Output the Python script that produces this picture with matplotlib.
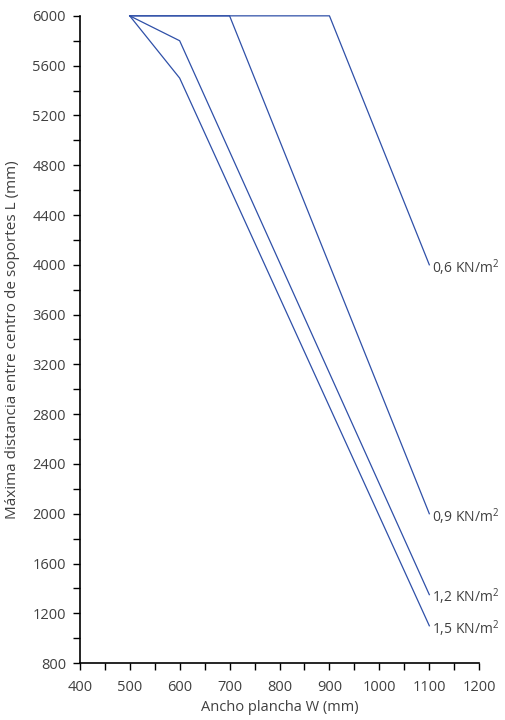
import matplotlib
matplotlib.use("Agg")
import matplotlib.pyplot as plt
from matplotlib.ticker import MultipleLocator

plt.rcParams['font.family'] = ['Open Sans', 'DejaVu Sans']
plt.rcParams['mathtext.fontset'] = 'custom'
plt.rcParams['mathtext.rm'] = 'Open Sans'

# Curves: width W (mm) vs max support distance L (mm)
labels = ['0,6 KN/m$^2$', '0,9 KN/m$^2$', '1,2 KN/m$^2$', '1,5 KN/m$^2$']
w_06 = [500, 900, 1100]
l_06 = [6000, 6000, 4000]
w_09 = [500, 700, 1100]
l_09 = [6000, 6000, 2000]
w_12 = [500, 600, 1100]
l_12 = [6000, 5800, 1350]
w_15 = [500, 600, 1100]
l_15 = [6000, 5500, 1100]

series = [(w_06, l_06), (w_09, l_09), (w_12, l_12), (w_15, l_15)]
color = '#2f50a8'
text_col = '#404040'

fig = plt.figure(figsize=(5.05, 7.2), dpi=100)
ax = fig.add_axes([0.158, 0.079, 0.791, 0.899])

for (w, l), lab in zip(series, labels):
    ax.plot(w, l, color=color, lw=0.9, clip_on=False)
    ax.text(w[-1] + 6, l[-1] - 20, lab, ha='left', va='center',
            fontsize=10, color=text_col)

ax.set_xlim(400, 1200)
ax.set_ylim(800, 6000)
ax.xaxis.set_major_locator(MultipleLocator(100))
ax.xaxis.set_minor_locator(MultipleLocator(50))
ax.yaxis.set_major_locator(MultipleLocator(400))
ax.yaxis.set_minor_locator(MultipleLocator(200))
ax.tick_params(which='both', direction='out', color='black', labelcolor=text_col,
               labelsize=10.5, width=1, length=5)
ax.tick_params(axis='x', which='major', pad=7)
ax.tick_params(axis='y', which='major', pad=5)
for s in ['top', 'right']:
    ax.spines[s].set_visible(False)
for s in ['left', 'bottom']:
    ax.spines[s].set_linewidth(1.2)

ax.set_xlabel('Ancho plancha W (mm)', fontsize=10.5, color=text_col, labelpad=4)
ax.set_ylabel('Máxima distancia entre centro de soportes L (mm)', fontsize=11,
              color=text_col, labelpad=9)

fig.savefig('out.png', dpi=100)
